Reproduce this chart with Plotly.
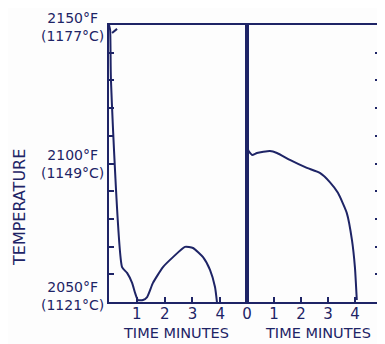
import plotly.graph_objects as go

NAVY = "#1e2466"

# Left panel: temperature (°F) vs time (minutes)
left_time = [0.0, 0.04, 0.07, 0.47, 0.65, 0.83, 0.94, 1.04, 1.22, 1.37, 1.58, 1.94, 2.30, 2.73, 3.02, 3.38, 3.63, 3.81, 3.88]
left_temp = [2150, 2148.2, 2130.1, 2062.6, 2060.5, 2056.9, 2053.2, 2050.7, 2050.7, 2051.8, 2056.9, 2062.6, 2066.2, 2069.9, 2069.5, 2066.2, 2061.6, 2055.4, 2050]
left_mark_time = [0.11, 0.29]
left_mark_temp = [2147.1, 2148.6]

# Right panel
right_time = [0.0, 0.04, 0.19, 0.37, 0.85, 1.11, 1.59, 2.22, 2.70, 3.07, 3.37, 3.70, 3.89, 4.0, 4.07]
right_temp = [2150, 2104.9, 2103.1, 2103.8, 2104.5, 2103.8, 2101.3, 2098.4, 2096.6, 2093.3, 2089.4, 2082.1, 2072.4, 2062.6, 2050.7]

y_ticks = [2050, 2060, 2070, 2080, 2090, 2100, 2110, 2120, 2130, 2140, 2150]
y_label_vals = [2050, 2100, 2150]
y_label_text = ["2050°F<br>(1121°C)", "2100°F<br>(1149°C)", "2150°F<br>(1177°C)"]
left_x_ticks = [1, 2, 3, 4]
right_x_ticks = [0, 1, 2, 3, 4]
x_title = "TIME MINUTES"
y_title = "TEMPERATURE"

FONT = "DejaVu Sans"
OFF = 8  # page body margin
W, H = 385 - OFF, 344 - OFF


def px(x):
    return (x - OFF) / W


def py(y):
    return 1 - (y - OFF) / H


x0, xm, x1 = px(109), px(247), px(380)
yb, yt = py(302), py(25)

fig = go.Figure()
curve = dict(color=NAVY, width=2, shape="spline", smoothing=0.5)
fig.add_trace(go.Scatter(x=left_time, y=left_temp, mode="lines", line=curve, xaxis="x", yaxis="y"))
fig.add_trace(go.Scatter(x=left_mark_time, y=left_mark_temp, mode="lines", line=dict(color=NAVY, width=2), xaxis="x", yaxis="y"))
fig.add_trace(go.Scatter(x=right_time, y=right_temp, mode="lines", line=curve, xaxis="x2", yaxis="y2"))

axis_common = dict(showgrid=False, zeroline=False, showline=True, linecolor=NAVY, linewidth=2,
                   ticks="inside", ticklen=5, tickwidth=1.5, tickcolor=NAVY, automargin=False,
                   tickfont=dict(family=FONT, size=15, color=NAVY))

annotations = []
for v, t, shift in zip(y_label_vals, y_label_text, [6, 0, -2]):
    annotations.append(dict(text=t, x=px(106), xanchor="right", xref="paper", y=v, yref="y",
                            yanchor="middle", yshift=shift, showarrow=False, align="center",
                            font=dict(family=FONT, size=14, color=NAVY)))
annotations += [
    dict(text=x_title, x=px(176), y=py(333), xref="paper", yref="paper", xanchor="center", yanchor="middle",
         showarrow=False, font=dict(family=FONT, size=14.5, color=NAVY)),
    dict(text=x_title, x=px(318), y=py(333), xref="paper", yref="paper", xanchor="center", yanchor="middle",
         showarrow=False, font=dict(family=FONT, size=14.5, color=NAVY)),
    dict(text=y_title, x=px(19), y=py(208), xref="paper", yref="paper", xanchor="center", yanchor="middle",
         showarrow=False, textangle=-90, font=dict(family=FONT, size=16, color=NAVY)),
]

fig.update_layout(
    template="none",
    width=W, height=H,
    margin=dict(l=0, r=0, t=0, b=0, autoexpand=False),
    paper_bgcolor="#fdfdfd", plot_bgcolor="#fdfdfd",
    showlegend=False,
    xaxis=dict(domain=[x0, xm], range=[0, 4.96], tickvals=left_x_ticks, mirror=True,
               ticklabelstandoff=-3, **axis_common),
    xaxis2=dict(domain=[xm, x1], range=[0, 4.93], tickvals=right_x_ticks, mirror=True, anchor="y2",
                ticklabelstandoff=-3, **axis_common),
    yaxis=dict(domain=[yb, yt], range=[2050, 2150], tickvals=y_ticks, showticklabels=False, mirror=True, **axis_common),
    yaxis2=dict(domain=[yb, yt], range=[2050, 2150], tickvals=y_ticks, showticklabels=False,
                side="right", anchor="x2", mirror=True, **axis_common),
    annotations=annotations,
)

fig.write_html("out.html")
